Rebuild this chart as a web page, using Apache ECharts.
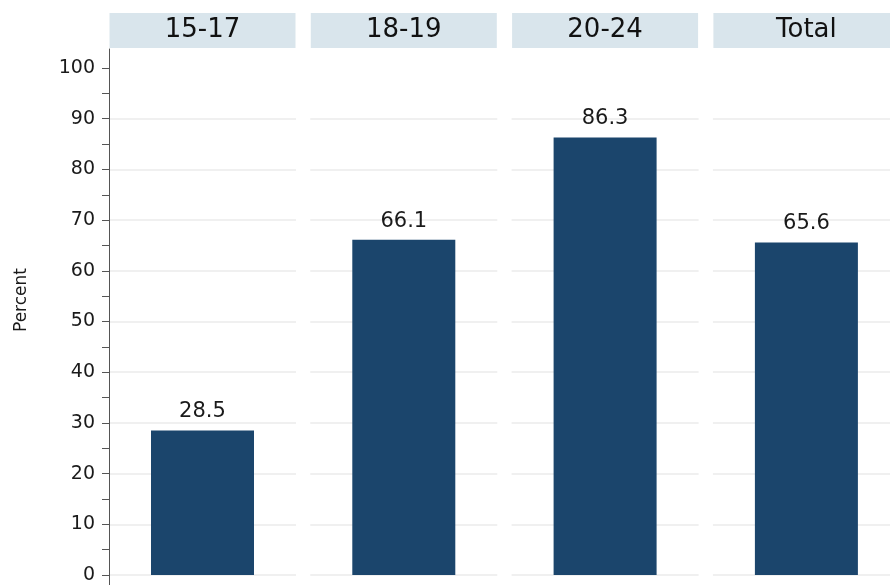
<!DOCTYPE html>
<html>
<head>
<meta charset="utf-8">
<script src="https://cdn.jsdelivr.net/npm/echarts@6/dist/echarts.min.js"></script>
<style>html,body{margin:0;padding:0;background:#fff;}#c{width:890px;height:585px;}</style>
</head>
<body>
<div id="c"></div>
<script>
const panels = ['15-17', '18-19', '20-24', 'Total'];
const values = [28.5, 66.1, 86.3, 65.6];
const yMin = 0, yMax = 100, yInterval = 10;
const yTitle = 'Percent';

const FONT = 'DejaVu Sans';
const barColor = '#1b456c';
const stripColor = '#d9e5ec';
const panelLeft0 = 109, panelPitch = 201.3, panelWidth = 187;
const plotTop = 68, plotHeight = 507;

const chart = echarts.init(document.getElementById('c'));
const grids = [], xAxes = [], yAxes = [], series = [];
panels.forEach((p, i) => {
  grids.push({ left: panelLeft0 + i * panelPitch, width: panelWidth, top: plotTop, height: plotHeight,
    outerBoundsMode: 'none', containLabel: false });
  xAxes.push({
    gridIndex: i, type: 'category', data: [p], position: 'top',
    axisLine: { show: false }, axisTick: { show: false },
    axisLabel: {
      show: true, margin: 20, fontFamily: FONT, fontSize: 26, color: '#111',
      backgroundColor: stripColor, width: 186, height: 35, lineHeight: 35, align: 'center',
      hideOverlap: false
    }
  });
  yAxes.push({
    gridIndex: i, type: 'value', min: yMin, max: yMax, interval: yInterval,
    axisLine: { show: false },
    axisTick: { show: i === 0, length: 7, lineStyle: { color: '#555', width: 1 } },
    minorTick: { show: i === 0, splitNumber: 2, length: 7, lineStyle: { color: '#555', width: 1 } },
    axisLabel: { show: i === 0, margin: 14, fontFamily: FONT, fontSize: 19, color: '#1a1a1a' },
    splitLine: { show: true, showMaxLine: false, lineStyle: { color: '#ebebeb', width: 1.5 } },
    minorSplitLine: { show: false }
  });
  series.push({
    type: 'bar', xAxisIndex: i, yAxisIndex: i, data: [values[i]], barWidth: 103,
    itemStyle: { color: barColor },
    label: { show: true, position: 'top', distance: 8, fontFamily: FONT, fontSize: 21, color: '#1a1a1a',
      formatter: (d) => d.value.toFixed(1) },
    silent: true
  });
});
// extra grid to draw the full-height y axis line
grids.push({ left: panelLeft0, width: 1, top: 49, bottom: 0, outerBoundsMode: 'none', containLabel: false });
xAxes.push({ gridIndex: 4, type: 'value', min: 0, max: 1, show: false });
yAxes.push({ gridIndex: 4, type: 'value', min: -1.97, max: 103.7,
  axisLine: { show: true, lineStyle: { color: '#555', width: 1 } },
  axisTick: { show: false }, axisLabel: { show: false }, splitLine: { show: false } });

chart.setOption({
  animation: false,
  backgroundColor: '#fff',
  grid: grids, xAxis: xAxes, yAxis: yAxes, series: series,
  graphic: [{
    type: 'text', x: 22, y: 300, rotation: Math.PI / 2,
    style: { text: yTitle, font: '17px "DejaVu Sans"', fill: '#1a1a1a', align: 'center', verticalAlign: 'middle' }
  }]
});
</script>
</body>
</html>
